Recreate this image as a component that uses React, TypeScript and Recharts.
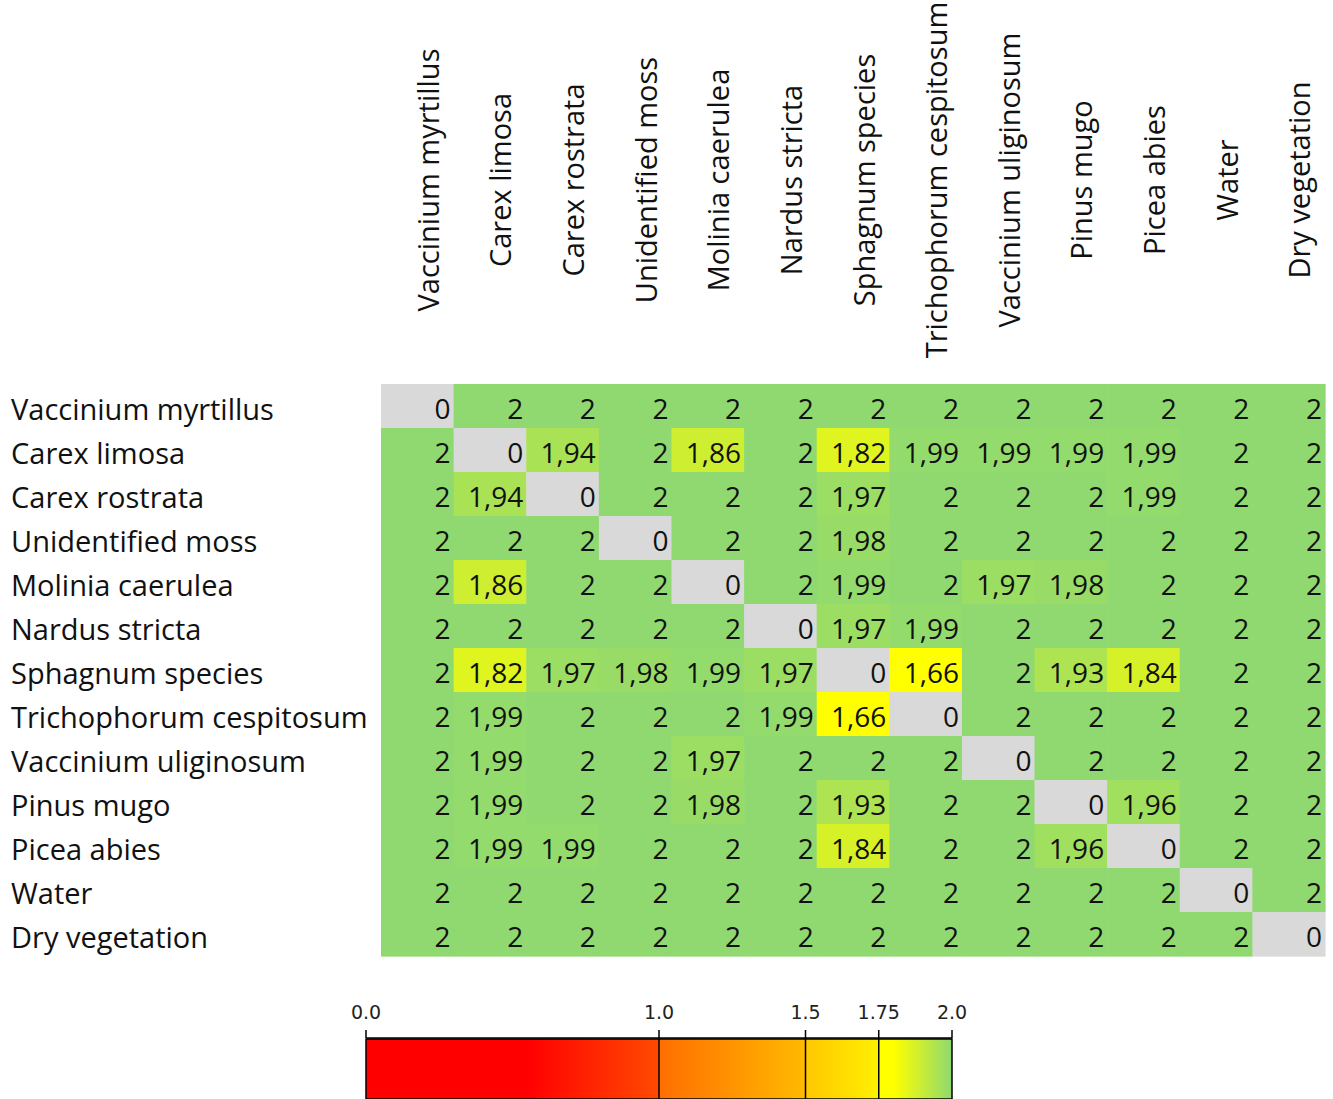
import React from 'react';
import { ScatterChart, Scatter, XAxis, YAxis, BarChart, Bar, ReferenceLine } from 'recharts';

const species = [
  'Vaccinium myrtillus',
  'Carex limosa',
  'Carex rostrata',
  'Unidentified moss',
  'Molinia caerulea',
  'Nardus stricta',
  'Sphagnum species',
  'Trichophorum cespitosum',
  'Vaccinium uliginosum',
  'Pinus mugo',
  'Picea abies',
  'Water',
  'Dry vegetation',
];

// separability between class pairs (row x column)
const distances: number[][] = [
  [0, 2, 2, 2, 2, 2, 2, 2, 2, 2, 2, 2, 2],
  [2, 0, 1.94, 2, 1.86, 2, 1.82, 1.99, 1.99, 1.99, 1.99, 2, 2],
  [2, 1.94, 0, 2, 2, 2, 1.97, 2, 2, 2, 1.99, 2, 2],
  [2, 2, 2, 0, 2, 2, 1.98, 2, 2, 2, 2, 2, 2],
  [2, 1.86, 2, 2, 0, 2, 1.99, 2, 1.97, 1.98, 2, 2, 2],
  [2, 2, 2, 2, 2, 0, 1.97, 1.99, 2, 2, 2, 2, 2],
  [2, 1.82, 1.97, 1.98, 1.99, 1.97, 0, 1.66, 2, 1.93, 1.84, 2, 2],
  [2, 1.99, 2, 2, 2, 1.99, 1.66, 0, 2, 2, 2, 2, 2],
  [2, 1.99, 2, 2, 1.97, 2, 2, 2, 0, 2, 2, 2, 2],
  [2, 1.99, 2, 2, 1.98, 2, 1.93, 2, 2, 0, 1.96, 2, 2],
  [2, 1.99, 1.99, 2, 2, 2, 1.84, 2, 2, 1.96, 0, 2, 2],
  [2, 2, 2, 2, 2, 2, 2, 2, 2, 2, 2, 0, 2],
  [2, 2, 2, 2, 2, 2, 2, 2, 2, 2, 2, 2, 0],
];

const scaleTicks = [0, 1, 1.5, 1.75, 2];
const scaleTickLabels = ['0.0', '1.0', '1.5', '1.75', '2.0'];
const scaleDividers = [1, 1.5, 1.75];

// colour stops for cell fill
const cellStops: Array<[number, number[]]> = [
  [0, [255, 0, 0]],
  [0.55, [255, 0, 0]],
  [1, [255, 80, 0]],
  [1.5, [255, 200, 0]],
  [1.66, [255, 255, 0]],
  [1.75, [255, 255, 0]],
  [2, [143, 217, 112]],
];

// colour stops for the legend bar
const barStops: Array<[number, string]> = [
  [0, '#FF0000'],
  [0.55, '#FF0000'],
  [0.999, '#FF4A00'],
  [1.001, '#FF6E00'],
  [1.499, '#FFBA00'],
  [1.501, '#FFC800'],
  [1.749, '#FFF000'],
  [1.751, '#FFFF00'],
  [1.8, '#FFFF00'],
  [2, '#8FD970'],
];

const FONT = '"Open Sans", sans-serif';
const LEFT = 381;
const TOP = 384;
const RIGHT = 1325;
const BOTTOM = 956;
const CHART_W = 1333;
const CHART_H = 960;
const cellW = (RIGHT - LEFT) / species.length;
const cellH = (BOTTOM - TOP) / species.length;

function cellColor(v: number) {
  for (let i = 1; i < cellStops.length; i++) {
    const [v1, c1] = cellStops[i];
    const [v0, c0] = cellStops[i - 1];
    if (v <= v1) {
      const t = v1 === v0 ? 0 : (v - v0) / (v1 - v0);
      const c = c0.map((x, k) => Math.round(x + (c1[k] - x) * t));
      return `rgb(${c[0]},${c[1]},${c[2]})`;
    }
  }
  return 'rgb(143,217,112)';
}

const fmt = (v: number) => String(v).replace('.', ',');

const cells = distances.flatMap((row, r) =>
  row.map((v, c) => ({ x: c + 0.5, y: r + 0.5, v, diag: r === c }))
);
const axisTicks = species.map((_, i) => i + 0.5);

const CellShape = (props: any) => {
  const { cx, cy, payload } = props;
  const fill = payload.diag ? '#D9D9D9' : cellColor(payload.v);
  return (
    <g>
      <rect x={cx - cellW / 2} y={cy - cellH / 2} width={cellW + 0.6} height={cellH + 0.6} fill={fill} />
      <text
        x={cx + cellW / 2 - 3}
        y={cy + 2}
        textAnchor="end"
        dominantBaseline="central"
        fontFamily={FONT}
        fontSize={28}
        fill="#111"
      >
        {fmt(payload.v)}
      </text>
    </g>
  );
};

const RowTick = (props: any) => {
  const { y, payload } = props;
  const name = species[Math.floor(payload.value)];
  return (
    <text x={11} y={y + 2} dominantBaseline="central" fontFamily={FONT} fontSize={29} fill="#111">
      {name}
    </text>
  );
};

const ColTick = (props: any) => {
  const { x, payload } = props;
  const name = species[Math.floor(payload.value)];
  const lx = x + 10;
  const ly = 180;
  return (
    <text
      x={lx}
      y={ly}
      transform={`rotate(-90 ${lx} ${ly})`}
      textAnchor="middle"
      dominantBaseline="central"
      fontFamily={FONT}
      fontSize={29}
      fill="#111"
    >
      {name}
    </text>
  );
};

const legendData = [{ name: 'scale', value: 2 }];

export default function App() {
  return (
    <div style={{ position: 'absolute', left: 0, top: 0, width: 1333, height: 1099, background: '#fff' }}>
      <svg width={0} height={0} style={{ position: 'absolute' }}>
        <defs>
          <linearGradient id="scaleGrad" x1="0" y1="0" x2="1" y2="0">
            {barStops.map(([v, c]) => (
              <stop key={v} offset={v / 2} stopColor={c} />
            ))}
          </linearGradient>
        </defs>
      </svg>
      <ScatterChart width={CHART_W} height={CHART_H} margin={{ top: 0, right: CHART_W - RIGHT, left: 0, bottom: CHART_H - BOTTOM }}>
        <XAxis
          type="number"
          dataKey="x"
          orientation="top"
          domain={[0, species.length]}
          ticks={axisTicks}
          interval={0}
          height={TOP}
          axisLine={false}
          tickLine={false}
          tick={<ColTick />}
        />
        <YAxis
          type="number"
          dataKey="y"
          reversed
          domain={[0, species.length]}
          ticks={axisTicks}
          interval={0}
          width={LEFT}
          axisLine={false}
          tickLine={false}
          tick={<RowTick />}
        />
        <Scatter data={cells} shape={<CellShape />} isAnimationActive={false} />
      </ScatterChart>
      <BarChart
        width={CHART_W}
        height={139}
        layout="vertical"
        data={legendData}
        margin={{ top: 0, right: CHART_W - 952, left: 366, bottom: 0 }}
        barCategoryGap={0}
      >
        <XAxis
          type="number"
          orientation="top"
          domain={[0, 2]}
          ticks={scaleTicks}
          interval={0}
          height={78}
          tickSize={8}
          tickMargin={11}
          axisLine={{ stroke: '#000', strokeWidth: 1.5 }}
          tickLine={{ stroke: '#000', strokeWidth: 1.5 }}
          tickFormatter={(v: number) => scaleTickLabels[scaleTicks.indexOf(v)]}
          tick={{ fontFamily: '"DejaVu Sans", sans-serif', fontSize: 19, fill: '#222' }}
        />
        <YAxis type="category" dataKey="name" hide />
        <Bar dataKey="value" fill="url(#scaleGrad)" stroke="#000" strokeWidth={1.5} barSize={60} isAnimationActive={false} />
        {scaleDividers.map((d) => (
          <ReferenceLine key={d} x={d} stroke="#000" strokeWidth={1.5} />
        ))}
      </BarChart>
    </div>
  );
}
